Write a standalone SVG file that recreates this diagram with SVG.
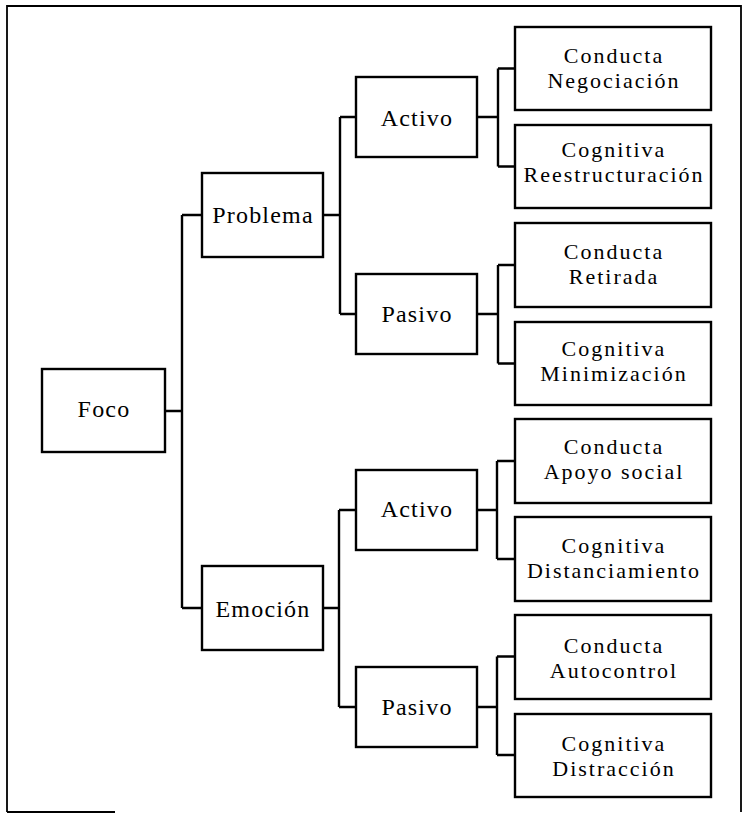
<svg xmlns="http://www.w3.org/2000/svg" width="746" height="813" viewBox="0 0 746 813">
<style>
.box{fill:#fff;stroke:#000;stroke-width:2.4}
.ln{fill:none;stroke:#000;stroke-width:2.4}
.fr{fill:none;stroke:#000;stroke-width:1.8}
text{font-family:"Liberation Serif","Times New Roman",serif;font-size:24px;letter-spacing:1.2px;text-anchor:middle;fill:#000}
text.lf{font-size:22px;letter-spacing:2px}
</style>
<rect width="746" height="813" fill="#fff"/>
<g id="frame">
<path class="fr" d="M7,812 V6 H741 V812"/>
<path class="fr" d="M7,812 H115"/>
</g>
<g id="connectors">
<path class="ln" d="M165,411 H182 M182,215 V608 M182,215 H202 M182,608 H202"/>
<path class="ln" d="M323,215 H340 M340,117 V314 M340,117 H356 M340,314 H356"/>
<path class="ln" d="M323,608 H339 M339,510 V707 M339,510 H356 M339,707 H356"/>
<path class="ln" d="M477,117 H498 M498,68.5 V166.5 M498,68.5 H515 M498,166.5 H515"/>
<path class="ln" d="M477,314 H498 M498,265 V363.5 M498,265 H515 M498,363.5 H515"/>
<path class="ln" d="M477,510 H497 M497,461 V559 M497,461 H515 M497,559 H515"/>
<path class="ln" d="M477,707 H497 M497,656.5 V755 M497,656.5 H515 M497,755 H515"/>
</g>
<g id="foco"><rect class="box" x="42" y="369" width="123" height="83"/><text x="104" y="417">Foco</text></g>
<g id="problema"><rect class="box" x="202" y="173" width="121" height="84"/><text x="263" y="223">Problema</text></g>
<g id="emocion"><rect class="box" x="202" y="566" width="121" height="84"/><text x="263" y="617">Emoción</text></g>
<g id="activo-p"><rect class="box" x="356" y="77" width="121" height="80"/><text x="417" y="126">Activo</text></g>
<g id="pasivo-p"><rect class="box" x="356" y="274" width="121" height="80"/><text x="417" y="322">Pasivo</text></g>
<g id="activo-e"><rect class="box" x="356" y="470" width="121" height="80"/><text x="417" y="517">Activo</text></g>
<g id="pasivo-e"><rect class="box" x="356" y="667" width="121" height="80"/><text x="417" y="715">Pasivo</text></g>
<g id="negociacion"><rect class="box" x="515" y="27" width="196" height="83"/><text class="lf" x="614" y="63">Conducta</text><text class="lf" x="614" y="88">Negociación</text></g>
<g id="reestructuracion"><rect class="box" x="515" y="125" width="196" height="83"/><text class="lf" x="614" y="157">Cognitiva</text><text class="lf" x="614" y="182">Reestructuración</text></g>
<g id="retirada"><rect class="box" x="515" y="223" width="196" height="84"/><text class="lf" x="614" y="259">Conducta</text><text class="lf" x="614" y="284">Retirada</text></g>
<g id="minimizacion"><rect class="box" x="515" y="322" width="196" height="83"/><text class="lf" x="614" y="356">Cognitiva</text><text class="lf" x="614" y="381">Minimización</text></g>
<g id="apoyo"><rect class="box" x="515" y="419" width="196" height="84"/><text class="lf" x="614" y="454">Conducta</text><text class="lf" x="614" y="479">Apoyo social</text></g>
<g id="distanciamiento"><rect class="box" x="515" y="517" width="196" height="84"/><text class="lf" x="614" y="553">Cognitiva</text><text class="lf" x="614" y="578">Distanciamiento</text></g>
<g id="autocontrol"><rect class="box" x="515" y="615" width="196" height="84"/><text class="lf" x="614" y="653">Conducta</text><text class="lf" x="614" y="678">Autocontrol</text></g>
<g id="distraccion"><rect class="box" x="515" y="714" width="196" height="83"/><text class="lf" x="614" y="751">Cognitiva</text><text class="lf" x="614" y="776">Distracción</text></g>
</svg>
